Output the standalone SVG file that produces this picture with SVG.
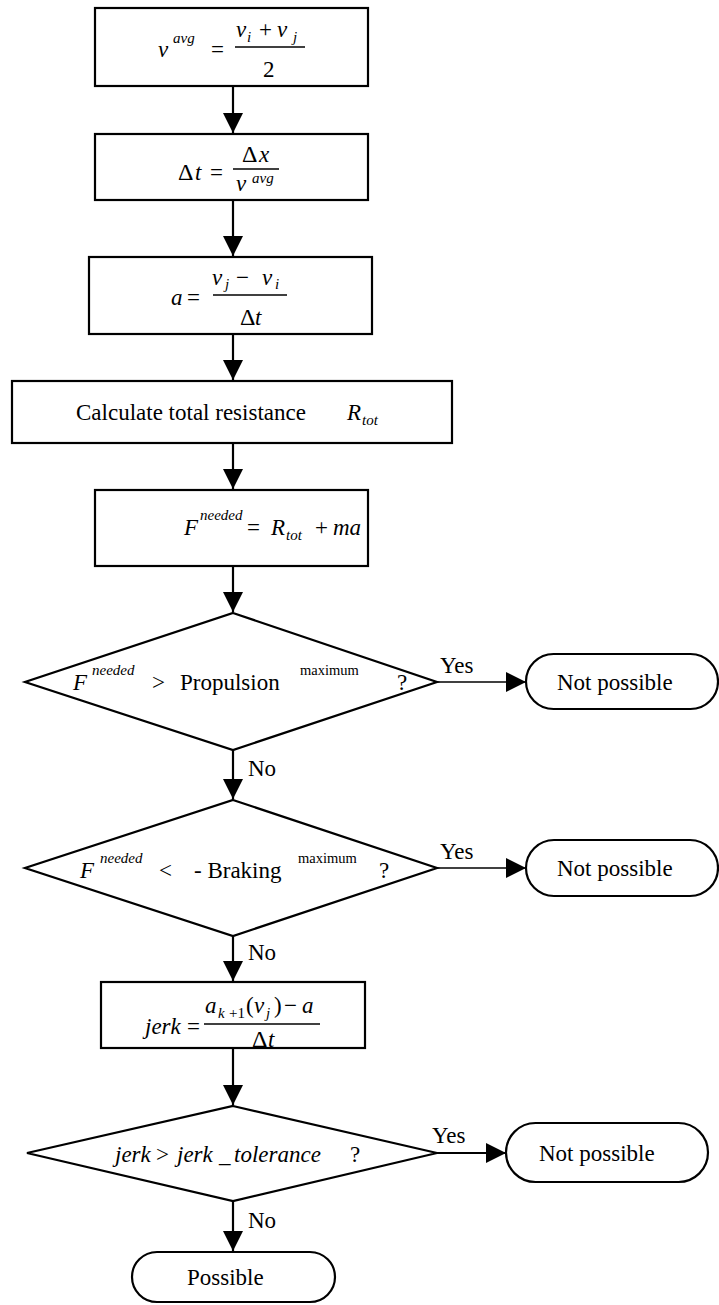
<svg xmlns="http://www.w3.org/2000/svg" width="719" height="1305" viewBox="0 0 719 1305">
<style>
.shape{fill:#fff;stroke:#000;stroke-width:2.2}
.conn{stroke:#000;stroke-width:2.2;fill:none}
.thin{stroke:#000;stroke-width:1.4;fill:none}
.frac{stroke:#000;stroke-width:1.5}
text{font-family:"Liberation Serif","Times New Roman",Times,serif;fill:#000}
.t{font-size:23px}
.i{font-size:23px;font-style:italic}
.s{font-size:15px;font-style:italic}
.su{font-size:14.5px}
.d{font-size:24px}
</style>
<defs>
<marker id="ah" markerWidth="21" markerHeight="20" refX="20" refY="10" orient="auto" markerUnits="userSpaceOnUse">
<path d="M0,0 L20,10 L0,20 Z" fill="#000"/>
</marker>
</defs>
<rect width="719" height="1305" fill="#fff"/>
<g id="connectors">
<line class="conn" x1="233" y1="86" x2="233" y2="133" marker-end="url(#ah)"/>
<line class="conn" x1="233" y1="200" x2="233" y2="256" marker-end="url(#ah)"/>
<line class="conn" x1="233" y1="334" x2="233" y2="380" marker-end="url(#ah)"/>
<line class="conn" x1="233" y1="443" x2="233" y2="489" marker-end="url(#ah)"/>
<line class="conn" x1="233" y1="566" x2="233" y2="612" marker-end="url(#ah)"/>
<line class="thin" x1="437" y1="682" x2="526" y2="682" marker-end="url(#ah)"/>
<line class="conn" x1="233" y1="750" x2="233" y2="799" marker-end="url(#ah)"/>
<line class="thin" x1="437" y1="868" x2="526" y2="868" marker-end="url(#ah)"/>
<line class="conn" x1="233" y1="936" x2="233" y2="981" marker-end="url(#ah)"/>
<line class="conn" x1="233" y1="1048" x2="233" y2="1105" marker-end="url(#ah)"/>
<line class="conn" x1="437" y1="1153" x2="506" y2="1153" marker-end="url(#ah)"/>
<line class="conn" x1="233" y1="1201" x2="233" y2="1251" marker-end="url(#ah)"/>
<text class="t" x="440" y="673">Yes</text>
<text class="t" x="248" y="776">No</text>
<text class="t" x="440" y="859">Yes</text>
<text class="t" x="248" y="960">No</text>
<text class="t" x="432" y="1143">Yes</text>
<text class="t" x="248" y="1228">No</text>
</g>
<g id="n1">
<rect class="shape" x="95" y="8" width="273" height="78"/>
<text class="i" x="158" y="57">v</text>
<text class="s" x="173" y="43">avg</text>
<text class="t" x="211" y="57">=</text>
<line class="frac" x1="235" y1="47" x2="305" y2="47"/>
<text class="i" x="236" y="37">v</text>
<text class="s" x="247" y="42">i</text>
<text class="t" x="259" y="37">+</text>
<text class="i" x="277" y="37">v</text>
<text class="s" x="293" y="42">j</text>
<text class="t" x="263" y="77">2</text>
</g>
<g id="n2">
<rect class="shape" x="95" y="134" width="273" height="66"/>
<text class="d" x="178" y="180">Δ</text>
<text class="i" x="195" y="180">t</text>
<text class="t" x="210" y="180">=</text>
<line class="frac" x1="233" y1="169" x2="279" y2="169"/>
<text class="d" x="242" y="162">Δ</text>
<text class="i" x="259" y="162">x</text>
<text class="i" x="236" y="191">v</text>
<text class="s" x="252" y="183">avg</text>
</g>
<g id="n3">
<rect class="shape" x="89" y="257" width="283" height="77"/>
<text class="i" x="171" y="305">a</text>
<text class="t" x="187" y="305">=</text>
<line class="frac" x1="213" y1="295" x2="287" y2="295"/>
<text class="i" x="212" y="285">v</text>
<text class="s" x="225" y="289">j</text>
<text class="t" x="236" y="285">−</text>
<text class="i" x="262" y="285">v</text>
<text class="s" x="275" y="289">i</text>
<text class="d" x="240" y="325">Δ</text>
<text class="i" x="255" y="325">t</text>
</g>
<g id="n4">
<rect class="shape" x="12" y="381" width="440" height="62"/>
<text class="t" x="76" y="420">Calculate total resistance</text>
<text class="i" x="347" y="420">R</text>
<text class="s" x="362" y="425">tot</text>
</g>
<g id="n5">
<rect class="shape" x="95" y="490" width="273" height="76"/>
<text class="i" x="184" y="535">F</text>
<text class="s" x="200" y="520">needed</text>
<text class="t" x="247" y="535">=</text>
<text class="i" x="271" y="535">R</text>
<text class="s" x="286" y="540">tot</text>
<text class="t" x="315" y="535">+</text>
<text class="i" x="333" y="535">ma</text>
</g>
<g id="n6">
<polygon class="shape" points="233,613 437,682 233,750 25,682"/>
<text class="i" x="73" y="690">F</text>
<text class="s" x="92" y="675">needed</text>
<text class="t" x="152" y="690">&gt;</text>
<text class="t" x="180" y="690">Propulsion</text>
<text class="su" x="300" y="675">maximum</text>
<text class="t" x="397" y="690">?</text>
</g>
<g id="n7">
<rect class="shape" x="526" y="654" width="192" height="55" rx="27.5" ry="27.5"/>
<text class="t" x="557" y="690">Not possible</text>
</g>
<g id="n8">
<polygon class="shape" points="233,800 437,868 233,936 25,868"/>
<text class="i" x="80" y="878">F</text>
<text class="s" x="100" y="863">needed</text>
<text class="t" x="159" y="878">&lt;</text>
<text class="t" x="194" y="878">- Braking</text>
<text class="su" x="298" y="863">maximum</text>
<text class="t" x="379" y="878">?</text>
</g>
<g id="n9">
<rect class="shape" x="526" y="840" width="192" height="56" rx="28" ry="28"/>
<text class="t" x="557" y="876">Not possible</text>
</g>
<g id="n10">
<rect class="shape" x="101" y="982" width="264" height="66"/>
<text class="i" x="145" y="1034">jerk</text>
<text class="t" x="187" y="1034">=</text>
<line class="frac" x1="204" y1="1024" x2="320" y2="1024"/>
<text class="i" x="205" y="1013">a</text>
<text class="s" x="218" y="1018">k</text>
<text class="s" x="229" y="1018" style="font-style:normal">+1</text>
<text class="t" x="246" y="1013">(</text>
<text class="i" x="254" y="1013">v</text>
<text class="s" x="266" y="1018">j</text>
<text class="t" x="274" y="1013">)</text>
<text class="t" x="284" y="1013">−</text>
<text class="i" x="302" y="1013">a</text>
<text class="d" x="252" y="1047">Δ</text>
<text class="i" x="268" y="1047">t</text>
</g>
<g id="n11">
<polygon class="shape" points="233,1106 437,1153 233,1201 27,1153"/>
<text class="i" x="115" y="1162">jerk</text>
<text class="t" x="156" y="1162">&gt;</text>
<text class="i" x="177" y="1162">jerk</text>
<text class="i" x="219" y="1162">_</text>
<text class="i" x="234" y="1162">tolerance</text>
<text class="t" x="350" y="1162">?</text>
</g>
<g id="n12">
<rect class="shape" x="506" y="1123" width="202" height="59" rx="29.5" ry="29.5"/>
<text class="t" x="539" y="1161">Not possible</text>
</g>
<g id="n13">
<rect class="shape" x="132" y="1252" width="203" height="50" rx="25" ry="25"/>
<text class="t" x="187" y="1285">Possible</text>
</g>
</svg>
